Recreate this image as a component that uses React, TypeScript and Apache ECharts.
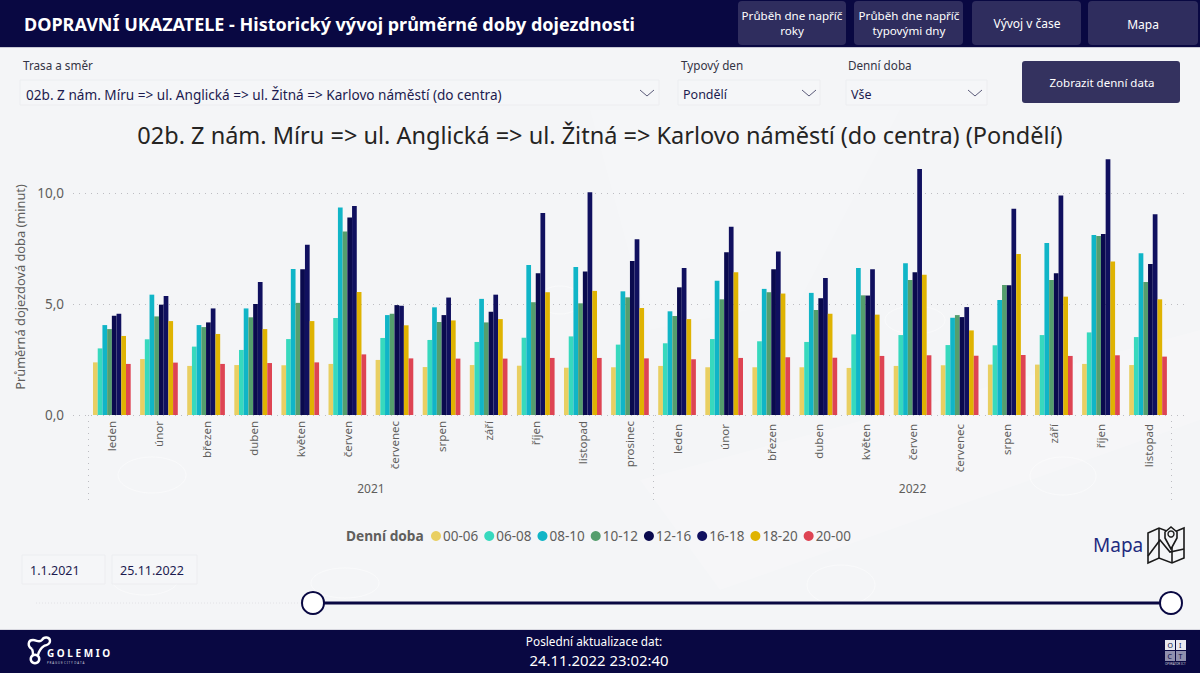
import React, { useEffect, useRef } from "react";
import * as echarts from "echarts";

const months = ["leden","únor","březen","duben","květen","červen","červenec","srpen","září","říjen","listopad","prosinec","leden ","únor ","březen ","duben ","květen ","červen ","červenec ","srpen ","září ","říjen ","listopad "];
const seriesNames = ["00-06","06-08","08-10","10-12","12-16","16-18","18-20","20-00"];
const colors = ["#E9CF62","#37D9BE","#10B5C7","#559E6D","#0A0A4E","#10105F","#DFB302","#DE4453"];

const v0006 = [2.37,2.52,2.21,2.25,2.24,2.30,2.48,2.16,2.25,2.22,2.13,2.15,2.21,2.15,2.15,2.15,2.12,2.21,2.24,2.27,2.27,2.30,2.25];
const v0608 = [3.00,3.41,3.08,2.93,3.42,4.37,3.47,3.38,3.29,3.48,3.54,3.17,3.23,3.42,3.32,3.29,3.63,3.60,3.15,3.14,3.60,3.72,3.51];
const v0810 = [4.05,5.42,4.05,4.80,6.58,9.35,4.50,4.85,5.23,6.76,6.67,5.57,4.67,6.05,5.68,5.50,6.62,6.83,4.38,5.18,7.75,8.11,7.28];
const v1012 = [3.87,4.44,3.96,4.40,5.05,8.26,4.56,4.19,4.17,5.08,5.03,5.30,4.46,5.21,5.53,4.73,5.39,6.08,4.50,5.86,6.08,8.06,5.99];
const v1216 = [4.47,4.97,4.17,5.00,6.56,8.89,4.95,4.50,4.65,6.38,6.46,6.94,5.75,7.33,6.56,5.26,5.38,6.43,4.41,5.84,6.38,8.15,6.80];
const v1618 = [4.56,5.36,4.80,5.99,7.67,9.41,4.92,5.29,5.42,9.10,10.03,7.91,6.62,8.48,7.36,6.17,6.56,11.08,4.86,9.29,9.89,11.52,9.04];
const v1820 = [3.56,4.23,3.65,3.87,4.23,5.54,4.04,4.26,4.32,5.53,5.59,4.82,4.32,6.43,5.47,4.56,4.52,6.32,3.81,7.25,5.33,6.91,5.21];
const v2000 = [2.30,2.36,2.30,2.34,2.37,2.73,2.55,2.54,2.54,2.57,2.57,2.55,2.51,2.57,2.60,2.58,2.66,2.69,2.67,2.70,2.66,2.69,2.63];
const seriesValues = [v0006,v0608,v0810,v1012,v1216,v1618,v1820,v2000];
const yTicks = [0,5,10];
const yearLabels = { 6: "2021", 17.5: "2022" };

echarts.graphic.registerShape(
  "golemioLogo",
  echarts.graphic.extendPath(
    "M32 649 C27 646 28 640 33 640 C37 640 39 643 42 640 C44 636 50 637 50 641 C50 645 46 645 44 646 C41 648 39 651 38 655 M32 649 C33 651 33 653 33 655",
    {}
  )
);

const FONT = "Noto Sans";
const NAVY = "#090842";
const BTN = "#2F2D5E";
const txt = (x, y, text, fontSize, fill, extra = {}) => ({
  type: "text", x, y, silent: true,
  style: { text, fontSize, fill, fontFamily: FONT, textVerticalAlign: "middle", verticalAlign: "middle", ...extra },
});
const box = (x, y, width, height, fill, stroke, r = 0) => ({
  type: "rect", shape: { x, y, width, height, r }, silent: true,
  style: { fill, stroke, lineWidth: stroke ? 1 : 0 },
});
const chevron = (x, y) => ({
  type: "polyline", shape: { points: [[x, y], [x + 7, y + 6], [x + 14, y]] }, silent: true,
  style: { fill: "none", stroke: "#5a5a78", lineWidth: 1 },
});
const faint = (cx, cy, rx, ry) => ({
  type: "ellipse", shape: { cx, cy, rx, ry }, silent: true,
  style: { fill: "none", stroke: "#ffffff", lineWidth: 1, opacity: 0.45 },
});

const underlay = [
  box(0, 0, 1200, 673, "#F4F5F7", undefined),
  { type: "polygon", shape: { points: [[590, 110], [900, 110], [800, 300], [650, 330]] }, silent: true, style: { fill: "#ffffff", opacity: 0.12 } },
  { type: "polygon", shape: { points: [[640, 480], [1200, 330], [1200, 420], [720, 590]] }, silent: true, style: { fill: "#ffffff", opacity: 0.18 } },
  faint(152, 475, 34, 18), faint(1063, 476, 33, 19), faint(145, 580, 33, 15), faint(345, 583, 34, 15), faint(841, 585, 34, 20), faint(915, 320, 30, 14), faint(560, 300, 22, 14),
];

const center = { align: "center", textAlign: "center" };
const footerAndChrome = [
  box(0, 0, 1200, 47, NAVY, undefined),
  { type: "rect", shape: { x: 0, y: 47, width: 1200, height: 1 }, silent: true, style: { fill: "#c8c8d4" } },
  txt(24, 24, "DOPRAVNÍ UKAZATELE - Historický vývoj průměrné doby dojezdnosti", 18, "#ffffff", { fontWeight: "bold" }),
  box(738, 1, 108, 44, BTN, undefined, 4),
  box(854, 1, 109, 44, BTN, undefined, 4),
  box(972, 1, 109, 44, BTN, undefined, 4),
  box(1088, 1, 110, 44, BTN, undefined, 4),
  txt(792, 15, "Průběh dne napříč", 11.6, "#ffffff", center),
  txt(792, 30, "roky", 11.6, "#ffffff", center),
  txt(909, 15, "Průběh dne napříč", 11.6, "#ffffff", center),
  txt(909, 30, "typovými dny", 11.6, "#ffffff", center),
  txt(1027, 23, "Vývoj v čase", 12, "#ffffff", center),
  txt(1143, 24, "Mapa", 12, "#ffffff", center),

  txt(23, 65, "Trasa a směr", 11.7, "#333344"),
  box(20, 80, 639, 25, "#F5F6F8", "#ECEDF0"),
  txt(26, 94, "02b. Z nám. Míru => ul. Anglická => ul. Žitná => Karlovo náměstí (do centra)", 13.6, "#1C1B4F"),
  chevron(640, 90),
  txt(681, 65, "Typový den", 11.7, "#333344"),
  box(678, 80, 142, 25, "#F5F6F8", "#ECEDF0"),
  txt(683, 94, "Pondělí", 12.5, "#1C1B4F"),
  chevron(802, 90),
  txt(848, 65, "Denní doba", 11.7, "#333344"),
  box(846, 80, 141, 25, "#F5F6F8", "#ECEDF0"),
  txt(851, 94, "Vše", 12.5, "#1C1B4F"),
  chevron(968, 90),
  box(1022, 61, 158, 42, "#34325F", undefined, 3),
  txt(1102, 82.5, "Zobrazit denní data", 11.5, "#ffffff", center),

  txt(346, 535, "Denní doba", 13.7, "#605E5C", { fontWeight: "bold" }),

  box(22, 555, 83, 29, "#F5F6F8", "#ECEDF0"),
  box(112, 555, 85, 29, "#F5F6F8", "#ECEDF0"),
  txt(30, 570, "1.1.2021", 12.5, "#1C1B4F"),
  txt(120, 570, "25.11.2022", 12.5, "#1C1B4F"),

  { type: "line", shape: { x1: 36, y1: 603, x2: 313, y2: 603 }, silent: true, style: { stroke: "#e2e2e6", lineWidth: 1, lineDash: [1, 2] } },
  { type: "line", shape: { x1: 313, y1: 603, x2: 1171, y2: 603 }, silent: true, style: { stroke: NAVY, lineWidth: 3 } },
  { type: "circle", shape: { cx: 313, cy: 603, r: 11 }, silent: true, style: { fill: "#ffffff", stroke: NAVY, lineWidth: 2 } },
  { type: "circle", shape: { cx: 1171, cy: 603, r: 11 }, silent: true, style: { fill: "#ffffff", stroke: NAVY, lineWidth: 2 } },

  txt(1093, 545, "Mapa", 19, "#1E2A80"),
  { type: "polygon", shape: { points: [[1148, 533], [1159, 528], [1172, 533], [1184, 528], [1184, 558], [1172, 563], [1159, 558], [1148, 563]] }, silent: true, style: { fill: "#F4F5F7", stroke: "#1a1a1a", lineWidth: 1.6 } },
  { type: "line", shape: { x1: 1159, y1: 528, x2: 1159, y2: 558 }, silent: true, style: { stroke: "#1a1a1a", lineWidth: 1.6 } },
  { type: "line", shape: { x1: 1172, y1: 533, x2: 1172, y2: 563 }, silent: true, style: { stroke: "#1a1a1a", lineWidth: 1.6 } },
  { type: "polyline", shape: { points: [[1148, 556], [1160, 540], [1170, 552], [1184, 549]] }, silent: true, style: { fill: "none", stroke: "#1a1a1a", lineWidth: 1.6 } },
  { type: "polygon", shape: { points: [[1165, 538], [1171, 549], [1177, 538], [1177, 532], [1171, 527], [1165, 532]] }, silent: true, style: { fill: "#F4F5F7", stroke: "#1a1a1a", lineWidth: 1.6 } },
  { type: "circle", shape: { cx: 1171, cy: 534, r: 3 }, silent: true, style: { fill: "none", stroke: "#1a1a1a", lineWidth: 1.4 } },

  box(0, 630, 1200, 43, NAVY, undefined),
  { type: "rect", shape: { x: 0, y: 629, width: 1200, height: 1 }, silent: true, style: { fill: "#d8d8e0" } },
  txt(594, 641, "Poslední aktualizace dat:", 11.8, "#ffffff", center),
  txt(599, 660, "24.11.2022 23:02:40", 14.9, "#ffffff", center),

  { type: "ring", shape: { cx: 35, cy: 659, r: 5.5, r0: 3 }, silent: true, style: { fill: "#ffffff" } },
  { type: "golemioLogo", silent: true, style: { fill: "none", stroke: "#ffffff", lineWidth: 2.4 } },
  txt(47, 652.5, "G O L E M I O", 10, "#ffffff", { fontWeight: "bold" }),
  txt(47, 663, "P R A G U E  C I T Y  D A T A", 3, "#c8c8d8"),

  box(1165, 640, 10, 10, "#E8E8F0", undefined),
  box(1176, 640, 10, 10, "#E8E8F0", undefined),
  box(1165, 651, 10, 10, "#8F8FAE", undefined),
  box(1176, 651, 10, 10, "#8F8FAE", undefined),
  txt(1167.5, 645, "O", 7, NAVY),
  txt(1179, 645, "I", 7, NAVY),
  txt(1167.5, 656, "C", 7, NAVY),
  txt(1178.5, 656, "T", 7, NAVY),
  txt(1165, 664, "OPERÁTOR ICT", 3, "#d0d0dc"),
];

export default function App() {
  const ref = useRef<HTMLDivElement>(null);
  useEffect(() => {
    document.body.style.margin = "0";
    const chart = echarts.init(ref.current!, undefined, { renderer: "svg" });
    chart.setOption({
      animation: false,
      textStyle: { fontFamily: FONT },
      title: {
        text: "02b. Z nám. Míru => ul. Anglická => ul. Žitná => Karlovo náměstí (do centra) (Pondělí)",
        left: 595, top: 118, textAlign: "center",
        textStyle: { fontSize: 23.5, fontWeight: "normal", color: "#252423", fontFamily: FONT },
      },
      legend: {
        data: seriesNames, left: 426, top: 524, icon: "circle",
        itemWidth: 10, itemHeight: 10, itemGap: 6,
        textStyle: { fontSize: 13.5, color: "#605E5C", fontFamily: FONT, padding: [0, 0, 0, -3] },
      },
      grid: [
        { left: 88.3, width: 1083.3, top: 159, height: 256 },
        { left: 73, width: 1112, top: 159, height: 256 },
      ],
      xAxis: [
        {
          type: "category", gridIndex: 0, data: months,
          axisLine: { show: false }, axisTick: { show: false },
          axisLabel: { rotate: 90, interval: 0, margin: 6, fontSize: 11.5, color: "#605E5C", fontFamily: FONT },
        },
        {
          type: "value", gridIndex: 0, min: 0, max: 23, position: "bottom",
          axisLine: { show: false }, splitLine: { show: false },
          axisTick: { show: true, customValues: [0, 12, 23], length: 85, lineStyle: { type: [1, 5], color: "#bdbdc2", width: 1 } },
          axisLabel: {
            show: true, customValues: [6, 17.5], margin: 67, fontSize: 12, color: "#605E5C", fontFamily: FONT,
            formatter: (v: number) => (yearLabels as any)[v] ?? "",
          },
        },
        { type: "category", gridIndex: 1, data: [""], show: false },
      ],
      yAxis: [
        {
          type: "value", gridIndex: 0, min: 0, max: 11.53, interval: 5,
          axisLine: { show: false }, axisTick: { show: false }, axisLabel: { show: false }, splitLine: { show: false },
        },
        {
          type: "value", gridIndex: 1, min: 0, max: 11.53, interval: 5,
          name: "Průměrná dojezdová doba (minut)", nameLocation: "middle", nameGap: 46,
          nameTextStyle: { fontSize: 12.8, color: "#605E5C", fontFamily: FONT },
          axisLine: { show: false }, axisTick: { show: false },
          axisLabel: {
            margin: 9, fontSize: 13.5, color: "#605E5C", fontFamily: FONT, showMaxLabel: false,
            formatter: (v: number) => (yTicks.includes(v) ? v.toFixed(1).replace(".", ",") : ""),
          },
          splitLine: { show: true, showMaxLine: false, lineStyle: { type: [1, 5], color: "#bdbdc2", width: 1 } },
        },
      ],
      graphic: [
        { type: "group", silent: true, z: -10, zlevel: 0, children: underlay },
        { type: "group", silent: true, z: 1, children: footerAndChrome },
      ],
      series: seriesNames.map((name, i) => ({
        name, type: "bar", xAxisIndex: 0, yAxisIndex: 0,
        data: seriesValues[i], barGap: 0, barCategoryGap: "20%", z: 5,
        itemStyle: { color: colors[i] },
      })),
    });
    return () => chart.dispose();
  }, []);
  return <div ref={ref} style={{ position: "absolute", left: 0, top: 0, width: 1200, height: 673 }} />;
}
